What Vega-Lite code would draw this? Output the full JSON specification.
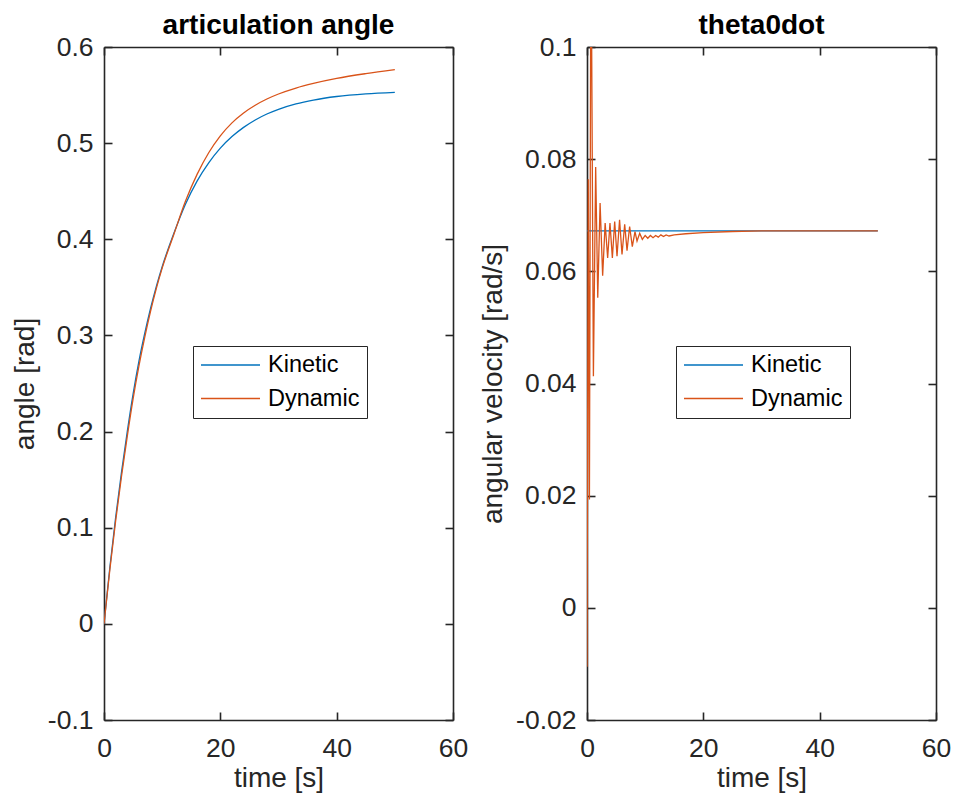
{
  "$schema": "https://vega.github.io/schema/vega-lite/v6.json",
  "padding": {"left": 11, "top": 12, "right": 19, "bottom": 20},
  "background": "white",
  "config": {
    "font": "Liberation Sans",
    "view": {"stroke": null},
    "axis": {
      "domainColor": "#262626", "domainWidth": 1.6,
      "tickColor": "#262626", "tickWidth": 1.6, "tickSize": -8,
      "labelColor": "#262626", "labelFontSize": 26.5, "labelFont": "Liberation Sans",
      "labelPadding": 19, "labelFlush": false, "labelOverlap": false,
      "titleFont": "Liberation Sans", "titleFontSize": 28, "titleFontWeight": "normal",
      "titleColor": "#262626", "grid": false
    },
    "title": {"fontSize": 28, "fontWeight": "bold", "color": "#000000", "font": "Liberation Sans", "anchor": "middle", "offset": -6, "frame": "group", "baseline": "alphabetic"},
    "legend": {
      "orient": "none", "strokeColor": "#262626", "fillColor": "white", "padding": 7,
      "labelFontSize": 23.5, "labelColor": "#000000", "labelFont": "Liberation Sans",
      "symbolType": "stroke", "symbolSize": 3481, "symbolStrokeWidth": 1.3,
      "clipHeight": 24, "rowPadding": 9.5, "labelOffset": 7
    }
  },
  "spacing": 134,
  "bounds": "flush",
  "resolve": {"scale": {"color": "independent"}},
  "hconcat": [
    {
      "width": 349, "height": 673,
      "title": {"text": "articulation angle"},
      "data": {"values": [
        {"t": 0, "v": 0, "series": "Kinetic"},
        {"t": 1, "v": 0.0584, "series": "Kinetic"},
        {"t": 2, "v": 0.1106, "series": "Kinetic"},
        {"t": 3, "v": 0.1573, "series": "Kinetic"},
        {"t": 4, "v": 0.2, "series": "Kinetic"},
        {"t": 5, "v": 0.239, "series": "Kinetic"},
        {"t": 6, "v": 0.273, "series": "Kinetic"},
        {"t": 7, "v": 0.302, "series": "Kinetic"},
        {"t": 8, "v": 0.328, "series": "Kinetic"},
        {"t": 9, "v": 0.351, "series": "Kinetic"},
        {"t": 10, "v": 0.3715, "series": "Kinetic"},
        {"t": 12, "v": 0.406, "series": "Kinetic"},
        {"t": 14, "v": 0.4365, "series": "Kinetic"},
        {"t": 16, "v": 0.4605, "series": "Kinetic"},
        {"t": 18, "v": 0.4795, "series": "Kinetic"},
        {"t": 20, "v": 0.4948, "series": "Kinetic"},
        {"t": 22, "v": 0.5068, "series": "Kinetic"},
        {"t": 24, "v": 0.5164, "series": "Kinetic"},
        {"t": 26, "v": 0.5241, "series": "Kinetic"},
        {"t": 28, "v": 0.5303, "series": "Kinetic"},
        {"t": 30, "v": 0.5352, "series": "Kinetic"},
        {"t": 33, "v": 0.5408, "series": "Kinetic"},
        {"t": 36, "v": 0.5448, "series": "Kinetic"},
        {"t": 40, "v": 0.5485, "series": "Kinetic"},
        {"t": 45, "v": 0.5513, "series": "Kinetic"},
        {"t": 50, "v": 0.5529, "series": "Kinetic"},
        {"t": 0, "v": 0, "series": "Dynamic"},
        {"t": 1, "v": 0.056, "series": "Dynamic"},
        {"t": 2, "v": 0.107, "series": "Dynamic"},
        {"t": 3, "v": 0.153, "series": "Dynamic"},
        {"t": 4, "v": 0.195, "series": "Dynamic"},
        {"t": 5, "v": 0.234, "series": "Dynamic"},
        {"t": 6, "v": 0.268, "series": "Dynamic"},
        {"t": 7, "v": 0.298, "series": "Dynamic"},
        {"t": 8, "v": 0.325, "series": "Dynamic"},
        {"t": 9, "v": 0.349, "series": "Dynamic"},
        {"t": 10, "v": 0.370, "series": "Dynamic"},
        {"t": 12, "v": 0.405, "series": "Dynamic"},
        {"t": 14, "v": 0.4395, "series": "Dynamic"},
        {"t": 16, "v": 0.4675, "series": "Dynamic"},
        {"t": 18, "v": 0.490, "series": "Dynamic"},
        {"t": 20, "v": 0.5076, "series": "Dynamic"},
        {"t": 22, "v": 0.5211, "series": "Dynamic"},
        {"t": 24, "v": 0.5314, "series": "Dynamic"},
        {"t": 26, "v": 0.5394, "series": "Dynamic"},
        {"t": 28, "v": 0.5459, "series": "Dynamic"},
        {"t": 30, "v": 0.5511, "series": "Dynamic"},
        {"t": 33, "v": 0.5573, "series": "Dynamic"},
        {"t": 36, "v": 0.5621, "series": "Dynamic"},
        {"t": 40, "v": 0.5673, "series": "Dynamic"},
        {"t": 45, "v": 0.5723, "series": "Dynamic"},
        {"t": 50, "v": 0.5765, "series": "Dynamic"}
      ]},
      "layer": [
        {
          "mark": {"type": "line", "clip": true, "strokeWidth": 1.3, "interpolate": "monotone"},
          "encoding": {
            "x": {"field": "t", "type": "quantitative", "scale": {"domain": [0, 60], "nice": false},
                  "axis": {"orient": "bottom", "values": [0, 20, 40, 60], "title": "time [s]", "titlePadding": 3, "labelPadding": 23}},
            "y": {"field": "v", "type": "quantitative", "scale": {"domain": [-0.1, 0.6], "nice": false, "zero": false},
                  "axis": {"orient": "left", "values": [-0.1, 0, 0.1, 0.2, 0.3, 0.4, 0.5, 0.6], "labelExpr": "datum.value + ''", "title": "angle [rad]", "titlePadding": 8}},
            "color": {"field": "series", "type": "nominal",
                      "scale": {"domain": ["Kinetic", "Dynamic"], "range": ["#0072BD", "#D95319"]},
                      "legend": {"title": null, "orient": "none", "legendX": 89, "legendY": 299}}
          }
        },
        {
          "mark": {"type": "line", "opacity": 0, "clip": true},
          "encoding": {
            "x": {"field": "t", "type": "quantitative", "scale": {"domain": [0, 60], "nice": false},
                  "axis": {"orient": "top", "values": [0, 20, 40, 60], "labels": false, "title": null}},
            "y": {"field": "v", "type": "quantitative", "scale": {"domain": [-0.1, 0.6], "nice": false, "zero": false},
                  "axis": {"orient": "right", "values": [-0.1, 0, 0.1, 0.2, 0.3, 0.4, 0.5, 0.6], "labels": false, "title": null}},
            "detail": {"field": "series", "type": "nominal"}
          }
        }
      ],
      "resolve": {"axis": {"x": "independent", "y": "independent"}}
    },
    {
      "width": 349, "height": 673,
      "title": {"text": "theta0dot"},
      "data": {"values": [
        {"t": 0, "v": 0.0672, "series": "Kinetic"},
        {"t": 50, "v": 0.0672, "series": "Kinetic"},
        {"t": 0, "v": -0.0105, "series": "Dynamic"},
        {"t": 0.22, "v": 0.0764, "series": "Dynamic"},
        {"t": 0.42, "v": 0.0193, "series": "Dynamic"},
        {"t": 0.68, "v": 0.125, "series": "Dynamic"},
        {"t": 1.1, "v": 0.0413, "series": "Dynamic"},
        {"t": 1.49, "v": 0.0786, "series": "Dynamic"},
        {"t": 1.85, "v": 0.0553, "series": "Dynamic"},
        {"t": 2.25, "v": 0.0722, "series": "Dynamic"},
        {"t": 2.69, "v": 0.0592, "series": "Dynamic"},
        {"t": 3.12, "v": 0.0686, "series": "Dynamic"},
        {"t": 3.55, "v": 0.0624, "series": "Dynamic"},
        {"t": 3.95, "v": 0.0686, "series": "Dynamic"},
        {"t": 4.36, "v": 0.0624, "series": "Dynamic"},
        {"t": 4.76, "v": 0.0689, "series": "Dynamic"},
        {"t": 5.16, "v": 0.0627, "series": "Dynamic"},
        {"t": 5.6, "v": 0.0692, "series": "Dynamic"},
        {"t": 6.02, "v": 0.063, "series": "Dynamic"},
        {"t": 6.48, "v": 0.0684, "series": "Dynamic"},
        {"t": 6.88, "v": 0.0637, "series": "Dynamic"},
        {"t": 7.33, "v": 0.068, "series": "Dynamic"},
        {"t": 7.79, "v": 0.0644, "series": "Dynamic"},
        {"t": 8.25, "v": 0.0671, "series": "Dynamic"},
        {"t": 8.6, "v": 0.0654, "series": "Dynamic"},
        {"t": 9.06, "v": 0.0668, "series": "Dynamic"},
        {"t": 9.51, "v": 0.0657, "series": "Dynamic"},
        {"t": 10.0, "v": 0.0664, "series": "Dynamic"},
        {"t": 10.45, "v": 0.0659, "series": "Dynamic"},
        {"t": 10.9, "v": 0.0664, "series": "Dynamic"},
        {"t": 11.35, "v": 0.066, "series": "Dynamic"},
        {"t": 11.8, "v": 0.0664, "series": "Dynamic"},
        {"t": 12.25, "v": 0.0661, "series": "Dynamic"},
        {"t": 12.7, "v": 0.0665, "series": "Dynamic"},
        {"t": 13.15, "v": 0.0662, "series": "Dynamic"},
        {"t": 13.6, "v": 0.0665, "series": "Dynamic"},
        {"t": 14.1, "v": 0.0663, "series": "Dynamic"},
        {"t": 15, "v": 0.0665, "series": "Dynamic"},
        {"t": 17, "v": 0.0667, "series": "Dynamic"},
        {"t": 20, "v": 0.0669, "series": "Dynamic"},
        {"t": 25, "v": 0.0671, "series": "Dynamic"},
        {"t": 30, "v": 0.0672, "series": "Dynamic"},
        {"t": 40, "v": 0.0672, "series": "Dynamic"},
        {"t": 50, "v": 0.0672, "series": "Dynamic"}
      ]},
      "layer": [
        {
          "mark": {"type": "line", "clip": true, "strokeWidth": 1.3},
          "encoding": {
            "x": {"field": "t", "type": "quantitative", "scale": {"domain": [0, 60], "nice": false},
                  "axis": {"orient": "bottom", "values": [0, 20, 40, 60], "title": "time [s]", "titlePadding": 3, "labelPadding": 23}},
            "y": {"field": "v", "type": "quantitative", "scale": {"domain": [-0.02, 0.1], "nice": false, "zero": false},
                  "axis": {"orient": "left", "values": [-0.02, 0, 0.02, 0.04, 0.06, 0.08, 0.1], "labelExpr": "datum.value + ''", "title": "angular velocity [rad/s]", "titlePadding": 8}},
            "color": {"field": "series", "type": "nominal",
                      "scale": {"domain": ["Kinetic", "Dynamic"], "range": ["#0072BD", "#D95319"]},
                      "legend": {"title": null, "orient": "none", "legendX": 89, "legendY": 299}}
          }
        },
        {
          "mark": {"type": "line", "opacity": 0, "clip": true},
          "encoding": {
            "x": {"field": "t", "type": "quantitative", "scale": {"domain": [0, 60], "nice": false},
                  "axis": {"orient": "top", "values": [0, 20, 40, 60], "labels": false, "title": null}},
            "y": {"field": "v", "type": "quantitative", "scale": {"domain": [-0.02, 0.1], "nice": false, "zero": false},
                  "axis": {"orient": "right", "values": [-0.02, 0, 0.02, 0.04, 0.06, 0.08, 0.1], "labels": false, "title": null}},
            "detail": {"field": "series", "type": "nominal"}
          }
        }
      ],
      "resolve": {"axis": {"x": "independent", "y": "independent"}}
    }
  ]
}
